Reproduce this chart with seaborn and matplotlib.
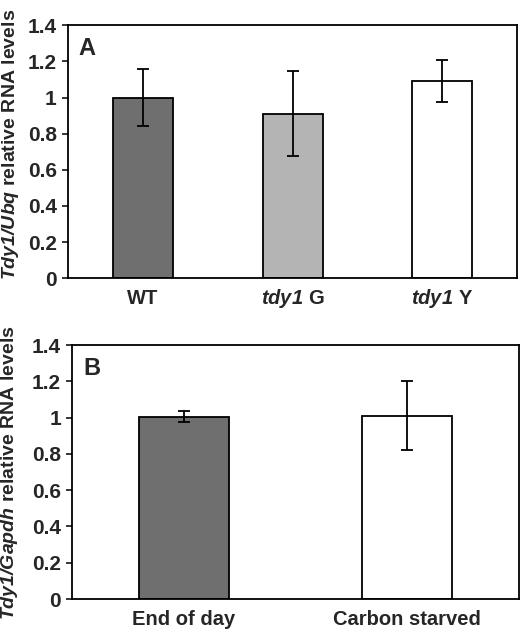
import matplotlib
matplotlib.use("Agg")
import matplotlib.pyplot as plt
import seaborn as sns
import pandas as pd

# panel A: Tdy1/Ubq
lines_a = ["WT", "tdy1 G", "tdy1 Y"]
labels_a = [r"$\mathbf{WT}$", r"$\mathbfit{tdy1}\mathbf{\ G}$", r"$\mathbfit{tdy1}\mathbf{\ Y}$"]
mean_a = [1.00, 0.91, 1.09]
err_lo_a = [0.16, 0.235, 0.115]
err_hi_a = [0.16, 0.235, 0.12]
colors_a = ["#6f6f6f", "#b4b4b4", "#ffffff"]

# panel B: Tdy1/Gapdh
cond_b = ["End of day", "Carbon starved"]
mean_b = [1.005, 1.01]
err_lo_b = [0.03, 0.19]
err_hi_b = [0.03, 0.195]
colors_b = ["#6f6f6f", "#ffffff"]

yticks = [0, 0.2, 0.4, 0.6, 0.8, 1.0, 1.2, 1.4]
ytick_labels = ["0", "0.2", "0.4", "0.6", "0.8", "1", "1.2", "1.4"]

sns.set_style("white")
plt.rcParams['font.family'] = ['Liberation Sans', 'DejaVu Sans']
plt.rcParams['font.weight'] = 'bold'
plt.rcParams['mathtext.fontset'] = 'custom'
plt.rcParams['mathtext.rm'] = 'Liberation Sans:bold'
plt.rcParams['mathtext.it'] = 'Liberation Sans:bold:italic'
plt.rcParams['mathtext.bf'] = 'Liberation Sans:bold'
plt.rcParams['mathtext.bfit'] = 'Liberation Sans:bold:italic'

fig = plt.figure(figsize=(5.31, 6.31), dpi=100)
ax_a = fig.add_axes([0.128, 0.559, 0.846, 0.401])
ax_b = fig.add_axes([0.136, 0.0507, 0.841, 0.4023])


def draw_panel(ax, cats, means, lo, hi, colors, ticklabels, ylab, letter):
    df = pd.DataFrame({"cat": cats, "val": means})
    sns.barplot(data=df, x="cat", y="val", hue="cat", palette=colors,
                order=cats, hue_order=cats, width=0.4, errorbar=None,
                edgecolor="black", linewidth=1.3, legend=False, ax=ax)
    ax.errorbar(range(len(cats)), means, yerr=[lo, hi], fmt="none",
                ecolor="black", elinewidth=1.3, capsize=4, capthick=1.3)
    ax.set_xlim(-0.5, len(cats) - 0.5)
    ax.set_ylim(0, 1.4)
    ax.set_yticks(yticks)
    ax.set_yticklabels(ytick_labels, fontsize=15, fontweight="bold")
    ax.set_xticks(range(len(cats)))
    ax.set_xticklabels(ticklabels, fontsize=14.5, fontweight="bold")
    # same baseline for labels with and without descenders
    for lab in ax.get_xticklabels():
        lab.set_va("baseline")
    ax.tick_params(axis="y", length=4, width=1.3, direction="out", left=True, pad=4)
    ax.tick_params(axis="x", length=0, pad=18.5)
    for sp in ax.spines.values():
        sp.set_visible(True)
        sp.set_color("black")
        sp.set_linewidth(1.3)
    ax.set_xlabel("")
    ax.set_ylabel(ylab, fontsize=14, fontweight="bold")
    ax.text(0.024, 0.955, letter, transform=ax.transAxes, fontsize=17,
            fontweight="bold", va="top", ha="left")


draw_panel(ax_a, lines_a, mean_a, err_lo_a, err_hi_a, colors_a, labels_a,
           r"$\mathbfit{Tdy1/Ubq}$ relative RNA levels", "A")
ax_a.yaxis.set_label_coords(-0.105, 0.53)

draw_panel(ax_b, cond_b, mean_b, err_lo_b, err_hi_b, colors_b, cond_b,
           r"$\mathbfit{Tdy1/Gapdh}$ relative RNA levels", "B")
ax_b.yaxis.set_label_coords(-0.116, 0.5)

fig.savefig("out.png", dpi=100)
